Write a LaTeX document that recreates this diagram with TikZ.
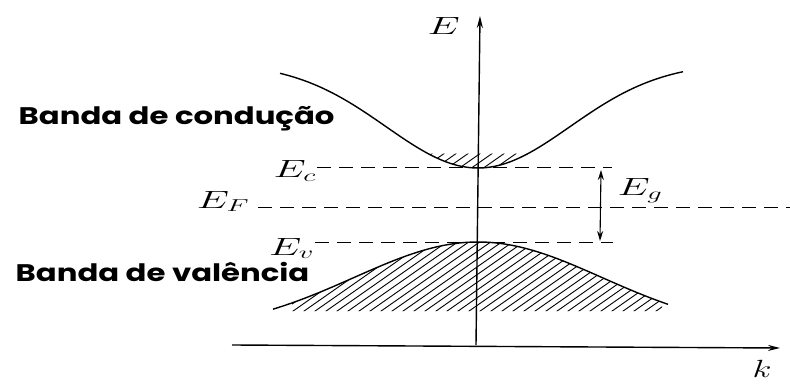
\documentclass[tikz,border=0pt]{standalone}
\usepackage{fontspec}
\usepackage{graphicx}
\newfontfamily\bandfont{Poppins}
\usetikzlibrary{arrows.meta}
\begin{document}
\begin{tikzpicture}[x=1pt,y=-1pt, line width=1.4pt,
  dashln/.style={dash pattern=on 14pt off 8pt, line width=1pt},
  hatchln/.style={line width=0.9pt},
  tip/.style={-{Stealth[length=12pt,width=6pt]}},
  lab/.style={inner sep=0pt, font=\fontsize{26}{26}\selectfont},
  band/.style={inner sep=0pt, anchor=base west, font=\bandfont\bfseries\fontsize{24}{24}\selectfont}]
\useasboundingbox (0,0) rectangle (790,385);

% axes
\coordinate (kstart) at (232,345);
\coordinate (kend) at (780,348);
\coordinate (ebot) at (476,345);
\coordinate (etop) at (480,16);
\draw[tip] (ebot) -- (etop);
\draw[tip] (kstart) -- (kend);

% conduction band
\draw plot[domain=280:683, samples=120] (\x, {168-105*(1-exp(-((\x-478)/130)*((\x-478)/130)))});
\begin{scope}
  \clip plot[domain=428:528, samples=60] (\x, {168-105*(1-exp(-((\x-478)/130)*((\x-478)/130)))}) -- cycle;
  \foreach \i in {0,...,20} \draw[hatchln] (380+12*\i,190) -- ++(80,-56);
\end{scope}

% valence band
\draw plot[domain=273:668, samples=120] (\x, {242+90*(1-exp(-((\x-478)/175)*((\x-478)/175)))});
\begin{scope}
  \clip plot[domain=292:662, samples=100] (\x, {242+90*(1-exp(-((\x-478)/175)*((\x-478)/175)))}) -- (662,311) -- (292,311) -- cycle;
  \foreach \i in {0,...,50} \draw[hatchln] (200+11*\i,330) -- ++(150,-105);
\end{scope}

% labels
\node[lab, anchor=base west] (E) at (427,35) {\scalebox{1.65}[1]{$E$}};
\node[lab, anchor=base] (k) at (762,377) {\scalebox{1.4}[1]{$k$}};
\node[lab, anchor=base east] (Ec) at (317,178) {\scalebox{1.65}[1]{$E_c$}};
\node[lab, anchor=base east] (EF) at (250,208) {\scalebox{1.65}[1]{$E_F$}};
\node[lab, anchor=base east] (Ev) at (315,255) {\scalebox{1.65}[1]{$E_v$}};
\node[lab, anchor=base west] (Eg) at (617,196) {\scalebox{1.65}[1]{$E_g$}};

% levels
\coordinate (ecr) at (612,168);
\coordinate (efr) at (790,207);
\coordinate (evr) at (613,242);
\draw[dashln] (Ec.east |- 0,168) -- (ecr);
\draw[dashln] (EF.east |- 0,207) ++(8,0) -- (efr);
\draw[dashln] (Ev.east |- 0,242) -- (evr);

% gap arrow
\coordinate (gt) at (601,170);
\coordinate (gb) at (600,241);
\draw[{Stealth[length=10pt,width=6pt]}-{Stealth[length=10pt,width=6pt]}, line width=1.1pt] (gb) -- (gt);

% band names
\node[band] (cb) at (18,125) {\scalebox{1.28}[1]{Banda de condução}};
\node[band] (vb) at (15,281) {\scalebox{1.28}[1]{Banda de valência}};
\end{tikzpicture}
\end{document}
